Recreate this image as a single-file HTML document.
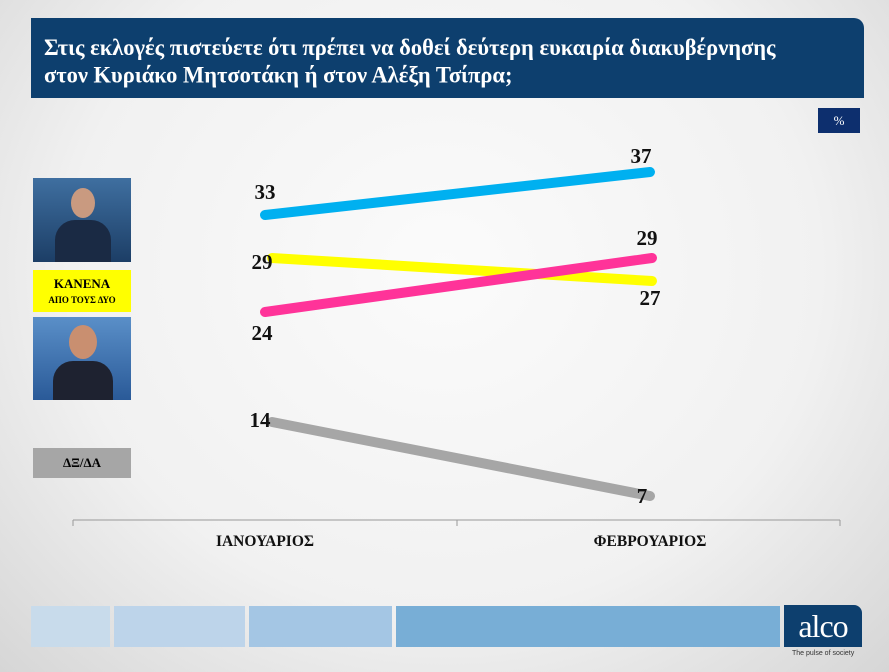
<!DOCTYPE html><html><head><meta charset="utf-8"><style>
body{margin:0;width:889px;height:672px;overflow:hidden;background:radial-gradient(ellipse at 50% 40%,#fbfbfb 0%,#f1f1f1 60%,#d6d6d6 100%);font-family:"Liberation Serif",serif;position:relative}
.a{position:absolute}
</style></head><body>
<div class="a" style="left:31px;top:18px;width:833px;height:80px;background:#0d3f6e;border-top-right-radius:10px"></div>
<div class="a" style="left:44px;top:34px;color:#fff;font-size:22.5px;font-weight:bold;line-height:26px;transform:scaleY(1.05);transform-origin:top left">Στις εκλογές πιστεύετε ότι πρέπει να δοθεί δεύτερη ευκαιρία διακυβέρνησης<br>στον Κυριάκο Μητσοτάκη ή στον Αλέξη Τσίπρα;</div>
<div class="a" style="left:818px;top:108px;width:42px;height:25px;background:#0d2f6e;color:#fff;font-size:13px;text-align:center;line-height:25px">%</div>
<div class="a" style="left:33px;top:178px;width:98px;height:84px;background:linear-gradient(#3f6fa0,#1c3e66)"><div class="a" style="left:38px;top:10px;width:24px;height:30px;border-radius:50%;background:#c99a80"></div><div class="a" style="left:22px;top:42px;width:56px;height:42px;background:#1a2a44;border-radius:20px 20px 0 0"></div></div>
<div class="a" style="left:33px;top:270px;width:98px;height:42px;background:#ffff00;text-align:center;font-weight:bold;font-size:13px;line-height:15px;padding-top:6px;box-sizing:border-box">ΚΑΝΕΝΑ<br><span style="font-size:9px">ΑΠΟ ΤΟΥΣ ΔΥΟ</span></div>
<div class="a" style="left:33px;top:317px;width:98px;height:83px;background:linear-gradient(#5a8fc8,#2a5a98)"><div class="a" style="left:36px;top:8px;width:28px;height:34px;border-radius:50%;background:#c98f70"></div><div class="a" style="left:20px;top:44px;width:60px;height:39px;background:#1e2230;border-radius:20px 20px 0 0"></div></div>
<div class="a" style="left:33px;top:448px;width:98px;height:30px;background:#a6a6a6;text-align:center;font-weight:bold;font-size:13px;line-height:30px">ΔΞ/ΔΑ</div>
<svg class="a" style="left:0;top:0" width="889" height="672">
<g stroke-width="10" stroke-linecap="round">
<line x1="265" y1="215" x2="650" y2="172" stroke="#00b0f0"/>
<line x1="272" y1="258" x2="652" y2="281" stroke="#ffff00"/>
<line x1="265" y1="312" x2="652" y2="258" stroke="#ff3399"/>
<line x1="272" y1="422" x2="650" y2="496" stroke="#a6a6a6"/>
</g>
<g stroke="#999" stroke-width="1"><line x1="73" y1="520" x2="840" y2="520"/><line x1="73" y1="520" x2="73" y2="526"/><line x1="457" y1="520" x2="457" y2="526"/><line x1="840" y1="520" x2="840" y2="526"/></g>
<g font-family="Liberation Serif" font-weight="bold" font-size="21" text-anchor="middle" fill="#111">
<text x="265" y="199">33</text><text x="641" y="163">37</text><text x="262" y="269">29</text><text x="647" y="245">29</text><text x="650" y="305">27</text><text x="262" y="340">24</text><text x="260" y="427">14</text><text x="642" y="503">7</text>
<text x="265" y="546" font-size="15.5">ΙΑΝΟΥΑΡΙΟΣ</text><text x="650" y="546" font-size="15.5">ΦΕΒΡΟΥΑΡΙΟΣ</text>
</g></svg>
<div class="a" style="left:31px;top:606px;width:79px;height:41px;background:#c8dbeb"></div>
<div class="a" style="left:114px;top:606px;width:131px;height:41px;background:#bdd4ea"></div>
<div class="a" style="left:249px;top:606px;width:143px;height:41px;background:#a4c6e4"></div>
<div class="a" style="left:396px;top:606px;width:384px;height:41px;background:#78aed6"></div>
<div class="a" style="left:784px;top:605px;width:78px;height:42px;background:#0d3f6e;border-top-right-radius:8px;color:#fff;font-size:32px;text-align:center;line-height:42px;letter-spacing:-1px">alco</div>
<div class="a" style="left:792px;top:650px;font-family:'Liberation Sans',sans-serif;font-size:7px;color:#333">The pulse of society</div>
</body></html>
